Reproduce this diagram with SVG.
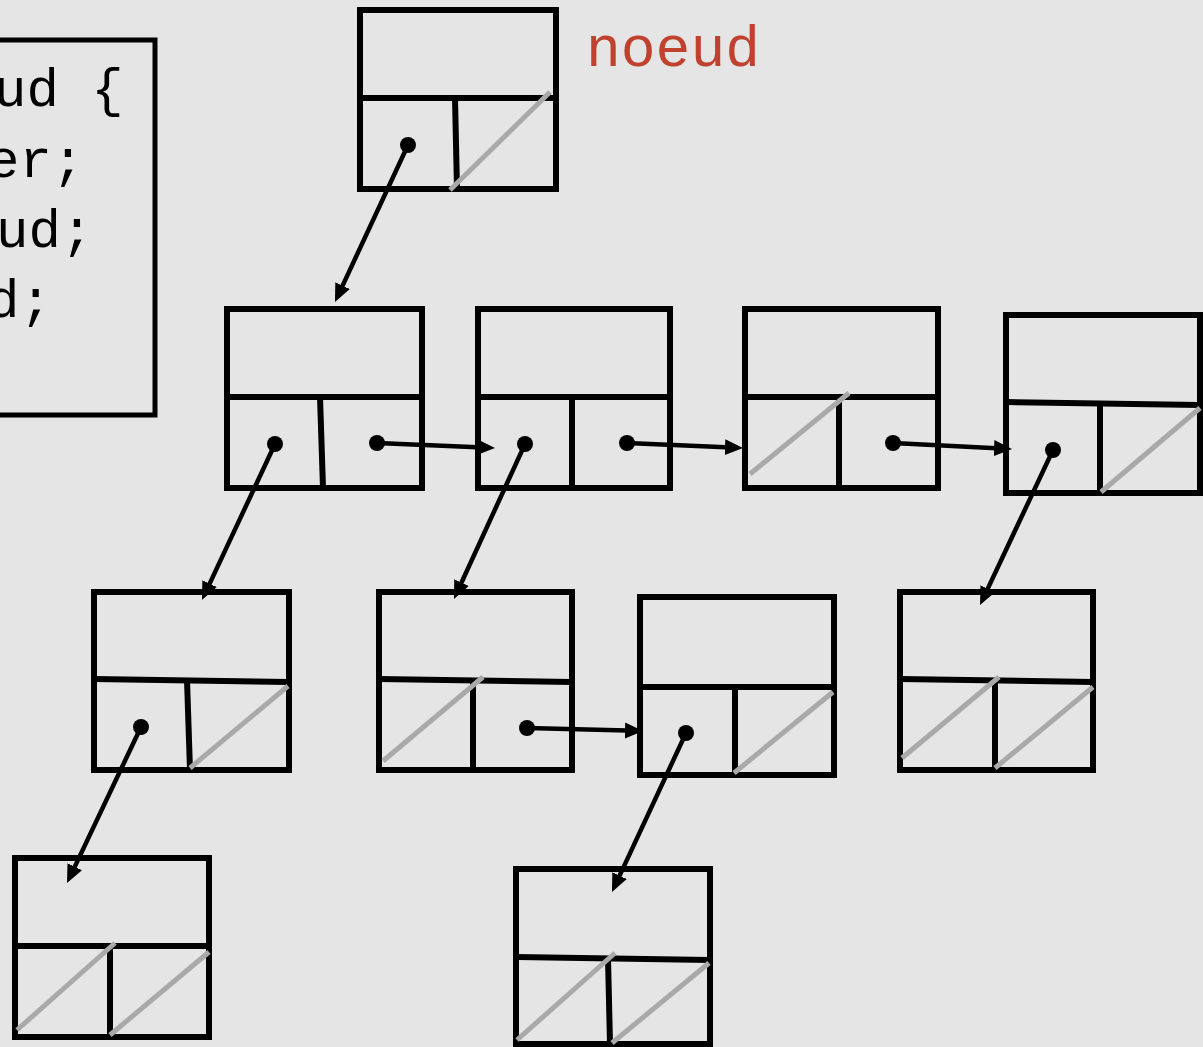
<svg xmlns="http://www.w3.org/2000/svg" width="1203" height="1047" viewBox="0 0 1203 1047">
<style>
.b{fill:none;stroke:#000;stroke-width:6}
.g{stroke:#a9a9a9;stroke-width:5;stroke-linecap:butt}
.code{font-family:"Liberation Mono","Courier New",monospace;font-size:54px;fill:#000}
.lbl{font-family:"Liberation Mono","Courier New",monospace;font-size:58px;fill:#c0412d}
.c line{stroke:#000;stroke-width:4.5;marker-end:url(#ah)}
.c circle{fill:#000}
</style>
<defs>
<marker id="ah" markerUnits="userSpaceOnUse" markerWidth="18" markerHeight="16" refX="12" refY="8" orient="auto" viewBox="0 0 18 16">
<path d="M0,0 L18,8 L0,16 z" fill="#000"/>
</marker>
</defs>
<rect width="1203" height="1047" fill="#e5e5e5"/>

<g id="code">
<rect x="-10" y="40" width="165" height="375" class="b" style="stroke-width:5"/>
<text class="code" x="-6" y="106">ud {</text>
<text class="code" x="-13" y="177">er;</text>
<text class="code" x="-4" y="247">ud;</text>
<text class="code" x="-13" y="317">d;</text>
</g>

<g id="label">
<text class="lbl" x="586" y="66">noeud</text>
</g>

<g id="node-top">
<rect x="360" y="10" width="196" height="179" class="b"/>
<line x1="360" y1="98" x2="556" y2="98" class="b"/>
<line x1="455" y1="98" x2="457" y2="189" class="b"/>
<line x1="450" y1="190" x2="550" y2="92" class="g"/>
</g>

<g id="node-a">
<rect x="227" y="309" width="195" height="179" class="b"/>
<line x1="227" y1="397" x2="422" y2="397" class="b"/>
<line x1="320" y1="397" x2="323" y2="488" class="b"/>
</g>

<g id="node-b">
<rect x="478" y="309" width="192" height="179" class="b"/>
<line x1="478" y1="397" x2="670" y2="397" class="b"/>
<line x1="572" y1="397" x2="572" y2="488" class="b"/>
</g>

<g id="node-c">
<rect x="745" y="309" width="193" height="179" class="b"/>
<line x1="745" y1="397" x2="938" y2="397" class="b"/>
<line x1="839" y1="397" x2="839" y2="488" class="b"/>
<line x1="750" y1="474" x2="849" y2="393" class="g"/>
</g>

<g id="node-d">
<rect x="1006" y="315" width="194" height="178" class="b"/>
<line x1="1006" y1="402" x2="1200" y2="405" class="b"/>
<line x1="1100" y1="404" x2="1100" y2="493" class="b"/>
<line x1="1101" y1="492" x2="1200" y2="408" class="g"/>
</g>

<g id="node-e">
<rect x="94" y="592" width="195" height="178" class="b"/>
<line x1="94" y1="679" x2="289" y2="682" class="b"/>
<line x1="187" y1="680" x2="190" y2="770" class="b"/>
<line x1="190" y1="768" x2="288" y2="686" class="g"/>
</g>

<g id="node-f">
<rect x="379" y="592" width="193" height="178" class="b"/>
<line x1="379" y1="679" x2="572" y2="682" class="b"/>
<line x1="473" y1="681" x2="473" y2="770" class="b"/>
<line x1="383" y1="761" x2="483" y2="677" class="g"/>
</g>

<g id="node-g">
<rect x="640" y="597" width="194" height="178" class="b"/>
<line x1="640" y1="687" x2="834" y2="687" class="b"/>
<line x1="735" y1="687" x2="735" y2="775" class="b"/>
<line x1="734" y1="773" x2="833" y2="692" class="g"/>
</g>

<g id="node-h">
<rect x="900" y="592" width="193" height="178" class="b"/>
<line x1="900" y1="679" x2="1093" y2="682" class="b"/>
<line x1="995" y1="681" x2="995" y2="770" class="b"/>
<line x1="902" y1="758" x2="999" y2="677" class="g"/>
<line x1="995" y1="768" x2="1093" y2="687" class="g"/>
</g>

<g id="node-i">
<rect x="15" y="858" width="194" height="179" class="b"/>
<line x1="15" y1="946" x2="209" y2="946" class="b"/>
<line x1="110" y1="946" x2="110" y2="1037" class="b"/>
<line x1="17" y1="1030" x2="115" y2="943" class="g"/>
<line x1="110" y1="1035" x2="209" y2="952" class="g"/>
</g>

<g id="node-j">
<rect x="516" y="869" width="194" height="175" class="b"/>
<line x1="516" y1="957" x2="710" y2="960" class="b"/>
<line x1="608" y1="958" x2="610" y2="1044" class="b"/>
<line x1="517" y1="1040" x2="615" y2="953" class="g"/>
<line x1="612" y1="1043" x2="709" y2="963" class="g"/>
</g>

<g id="connectors" class="c">
<line x1="408" y1="145" x2="337.5" y2="296.6"/>
<circle cx="408" cy="145" r="8"/>
<line x1="275" y1="444" x2="204.5" y2="594.6"/>
<circle cx="275" cy="444" r="8"/>
<line x1="377" y1="443" x2="489" y2="447.7"/>
<circle cx="377" cy="443" r="8"/>
<line x1="525" y1="444" x2="456.5" y2="593.5"/>
<circle cx="525" cy="444" r="8"/>
<line x1="627" y1="443" x2="737" y2="447.7"/>
<circle cx="627" cy="443" r="8"/>
<line x1="893" y1="443" x2="1006" y2="448.7"/>
<circle cx="893" cy="443" r="8"/>
<line x1="1053" y1="450" x2="982.6" y2="599.6"/>
<circle cx="1053" cy="450" r="8"/>
<line x1="141" y1="727" x2="69.6" y2="877.6"/>
<circle cx="141" cy="727" r="8"/>
<line x1="527" y1="728" x2="637" y2="730.8"/>
<circle cx="527" cy="728" r="8"/>
<line x1="686" y1="733" x2="614.5" y2="886.6"/>
<circle cx="686" cy="733" r="8"/>
</g>
</svg>
